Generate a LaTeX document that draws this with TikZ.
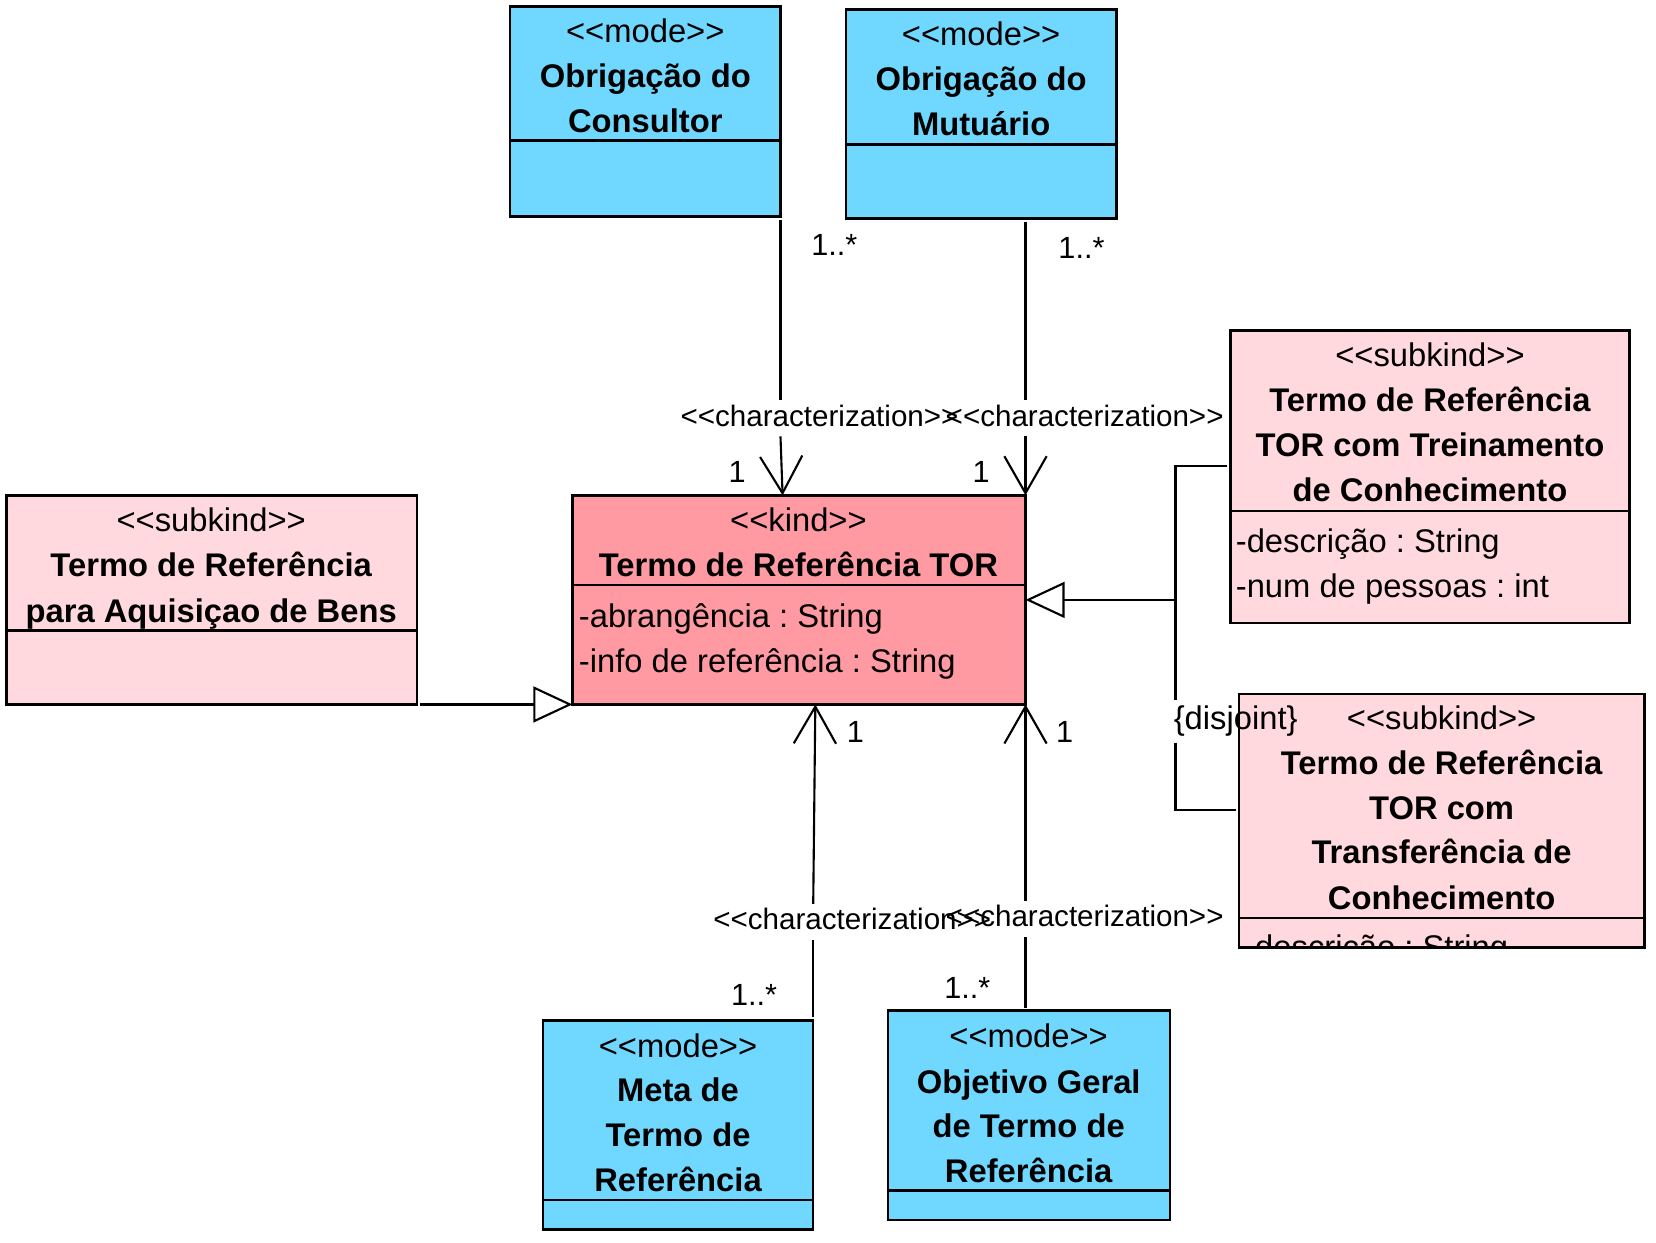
\documentclass[tikz,border=0pt]{standalone}
\usepackage{fontspec}
\setmainfont{Liberation Sans}
\usetikzlibrary{arrows.meta}
\definecolor{modecol}{RGB}{112,216,255}
\definecolor{kindcol}{RGB}{255,153,162}
\definecolor{subcol}{RGB}{255,217,221}
\newcommand\lt{<\kern0pt<}
\newcommand\gt{>\kern0pt>}
\frenchspacing
\begin{document}
\begin{tikzpicture}[x=1pt,y=-1pt,
  cls/.style={draw, line width=2.4pt, inner sep=0pt, outer sep=0pt},
  modebox/.style={cls, fill=modecol},
  kindbox/.style={cls, fill=kindcol},
  subbox/.style={cls, fill=subcol},
  st/.style={font=\fontsize{31}{40}\selectfont, inner sep=0pt, text height=23pt, text depth=8pt, yshift=-3.5pt},
  nm/.style={st, font=\bfseries\fontsize{31}{40}\selectfont},
  attr/.style={st, anchor=west},
  lbl/.style={font=\fontsize{28}{34}\selectfont, inner sep=0pt, text height=21pt, text depth=6pt, minimum height=34pt},
  mult/.style={font=\fontsize{29}{34}\selectfont, inner sep=0pt},
  djl/.style={font=\fontsize{31}{36}\selectfont, inner sep=0pt, text height=23pt, text depth=8pt, minimum height=40pt},
  con/.style={line width=2pt},
  assoc/.style={con, -{Straight Barb[length=35pt,width=40pt]}},
  genz/.style={con, -{Triangle[open,length=37pt,width=34pt]}},
  divl/.style={line width=2.4pt}
]
\useasboundingbox[fill=white] (0,0) rectangle (1568,1176);

% ---- class boxes
\node[modebox, minimum width=256pt, minimum height=199pt] (cons) at (611,105.5) {};
\node[modebox, minimum width=256pt, minimum height=198pt] (muta) at (929,108) {};
\node[kindbox, minimum width=429pt, minimum height=198pt] (kind) at (756.5,568) {};
\node[subbox, minimum width=389pt, minimum height=198pt] (left) at (200.5,568) {};
\node[subbox, minimum width=378pt, minimum height=277pt] (rt) at (1354,451.5) {};
\node[subbox, minimum width=384pt, minimum height=240pt] (rb) at (1365,777) {};
\node[modebox, minimum width=256pt, minimum height=198pt] (meta) at (642,1065) {};
\node[modebox, minimum width=267pt, minimum height=198pt] (obj) at (974.5,1056) {};

% ---- dividers
\draw[divl] (483,133) -- (739,133);
\draw[divl] (801,137) -- (1057,137);
\draw[divl] (542,554) -- (971,554);
\draw[divl] (6,597) -- (395,597);
\draw[divl] (1165,484) -- (1543,484);
\draw[divl] (1173,869) -- (1557,869);
\draw[divl] (514,1136) -- (770,1136);
\draw[divl] (841,1127) -- (1108,1127);

% ---- texts
\node[st] (t1a) at (611,29) {\lt mode\gt};
\node[nm] (t1b) at (611,72) {Obrigação do};
\node[nm] (t1c) at (611,114) {Consultor};

\node[st] (t2a) at (929,32) {\lt mode\gt};
\node[nm] (t2b) at (929,75) {Obrigação do};
\node[nm] (t2c) at (929,117) {Mutuário};

\node[st] (t3a) at (756,492) {\lt kind\gt};
\node[nm] (t3b) at (756,535) {Termo de Referência TOR};
\node[attr] (t3c) at (548,583) {-abrangência : String};
\node[attr] (t3d) at (548,626) {-info de referência : String};

\node[st] (t4a) at (200,492) {\lt subkind\gt};
\node[nm] (t4b) at (200,535) {Termo de Referência};
\node[nm] (t4c) at (200,578) {para Aquisiçao de Bens};

\node[st] (t5a) at (1354,336) {\lt subkind\gt};
\node[nm] (t5b) at (1354,379) {Termo de Referência};
\node[nm] (t5c) at (1354,421) {TOR com Treinamento};
\node[nm] (t5d) at (1354,464) {de Conhecimento};
\node[attr] (t5e) at (1170,512) {-descrição : String};
\node[attr] (t5f) at (1170,555) {-num de pessoas : int};

\node[st] (t6a) at (1365,680) {\lt subkind\gt};
\node[nm] (t6b) at (1365,722) {Termo de Referência};
\node[nm] (t6c) at (1365,765) {TOR com};
\node[nm] (t6d) at (1365,807) {Transferência de};
\node[nm] (t6e) at (1365,850) {Conhecimento};
\begin{scope}
  \clip (1174.2,870.2) rectangle (1555.8,895.8);
  \node[attr] (t6f) at (1178,897) {-descrição : String};
\end{scope}

\node[st] (t7a) at (642,990) {\lt mode\gt};
\node[nm] (t7b) at (642,1032) {Meta de};
\node[nm] (t7c) at (642,1075) {Termo de};
\node[nm] (t7d) at (642,1117) {Referência};

\node[st] (t8a) at (974,981) {\lt mode\gt};
\node[nm] (t8b) at (974,1024) {Objetivo Geral};
\node[nm] (t8c) at (974,1066) {de Termo de};
\node[nm] (t8d) at (974,1109) {Referência};

% ---- association labels
\node[lbl] (l1) at (776,396) {\lt characterization\gt};
\node[lbl] (l2) at (1027,396) {\lt characterization\gt};
\node[lbl] (l3) at (807,873) {\lt characterization\gt};
\node[lbl] (l4) at (1027,870) {\lt characterization\gt};

\node[mult] (m1) at (790,232) {1..*};
\node[mult] (m2) at (1024,235) {1..*};
\node[mult] (m3) at (714,942) {1..*};
\node[mult] (m4) at (916,935) {1..*};
\node[mult] (n1) at (698,447) {1};
\node[mult] (n2) at (929,447) {1};
\node[mult] (n3) at (810,693) {1};
\node[mult] (n4) at (1008,693) {1};

% ---- associations
\draw[con] ([yshift=-3pt]cons.south east) -- (cons.south east |- l1.north);
\draw[assoc] (cons.south east |- l1.south) -- ([xshift=2pt]cons.south east |- kind.north);

\draw[con] ([yshift=-3pt]kind.north east |- muta.south) -- (kind.north east |- l2.north);
\draw[assoc] (kind.north east |- l2.south) -- (kind.north east);

\draw[con] ([yshift=3pt]meta.north east) -- (meta.north east |- l3.south);
\draw[assoc] (meta.north east |- l3.north) -- ([xshift=2pt]meta.north east |- kind.south);

\draw[con] ([yshift=3pt]kind.south east |- obj.north) -- (kind.south east |- l4.south);
\draw[assoc] (kind.south east |- l4.north) -- (kind.south east);

% ---- generalizations
\draw[genz] ([xshift=3pt]left.south east) -- (kind.south west);

\coordinate (gt) at (1113,441);
\coordinate (gm) at (1113,568);
\coordinate (gb) at (1113,767);
\node[djl] (dj) at (1170,683) {\{disjoint\}};
\draw[con] ([xshift=-3pt]rt.west |- gt) -- (gt) -- (gt |- dj.north);
\draw[con] (gt |- dj.south) -- (gb) -- ([xshift=-3pt]rb.west |- gb);
\draw[genz] (gm) -- (kind.east);
\end{tikzpicture}
\end{document}
